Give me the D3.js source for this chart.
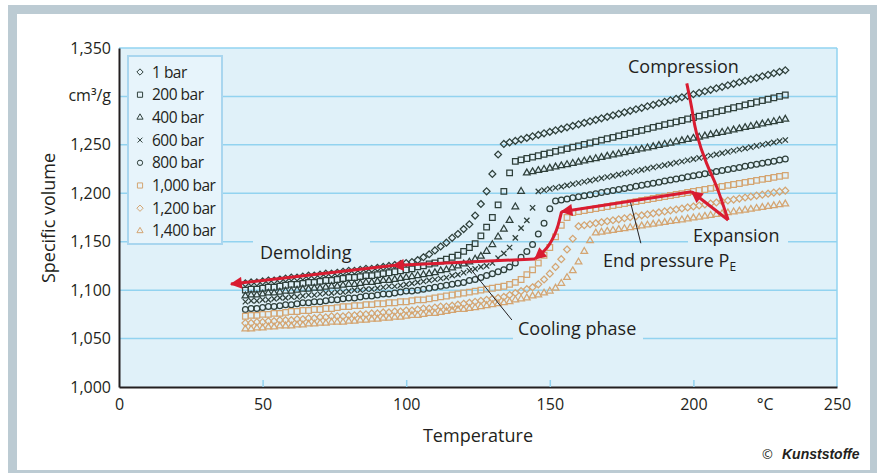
<!DOCTYPE html>
<html>
<head>
<meta charset="utf-8">
<script src="https://cdn.jsdelivr.net/npm/d3@7"></script>
<style>
  body { margin: 0; background: #fff; }
  svg { display: block; font-family: "Open Sans", sans-serif; }
</style>
</head>
<body>
<svg id="chart" width="877" height="473"></svg>
<script>
// measured temperatures (°C), shared by every pressure curve
var temps = [44,46,48,50,52,54,56,58,60,62,64,66,68,70,72,74,76,78,80,82,84,86,88,90,
  92,94,96,98,100,102,104,106,108,110,112,114,116,118,120,122,124,126,128,130,132,134,136,138,140,
  142,144,146,148,150,152,154,156,158,160,162,164,166,168,170,172,174,176,178,180,182,184,186,188,
  190,192,194,196,198,200,202,204,206,208,210,212,214,216,218,220,222,224,226,228,230,232];

var pressures = ["1 bar", "200 bar", "400 bar", "600 bar", "800 bar", "1,000 bar", "1,200 bar", "1,400 bar"];

// specific volume (cm3/g) per pressure
var v1 = [1.107,1.108,1.108,1.109,1.110,1.110,1.111,1.112,1.113,1.113,1.114,1.115,1.115,1.116,1.117,1.117,1.118,1.119,1.120,1.120,1.121,1.122,1.122,1.123,
  1.124,1.125,1.126,1.127,1.128,1.129,1.131,1.134,1.137,1.141,1.145,1.149,1.154,1.158,1.163,1.168,1.177,1.189,1.202,1.220,1.240,
  1.251,1.2526,1.2541,1.2557,1.2572,1.2588,1.2603,1.2619,1.2634,1.2650,1.2665,1.2681,1.2696,1.2712,1.2727,1.2743,1.2758,1.2774,1.2789,1.2805,
  1.2820,1.2836,1.2851,1.2867,1.2882,1.2898,1.2913,1.2929,1.2944,1.2960,1.2975,1.2991,1.3006,1.3022,1.3037,1.3053,1.3068,1.3084,1.3099,1.3115,
  1.3130,1.3146,1.3161,1.3177,1.3192,1.3208,1.3223,1.3239,1.3254,1.3270];
var v200 = [1.100,1.101,1.101,1.102,1.103,1.103,1.104,1.105,1.106,1.106,1.107,1.108,1.108,1.109,1.110,1.110,1.111,1.112,1.113,1.113,1.114,1.115,1.115,1.116,
  1.117,1.118,1.119,1.120,1.121,1.122,1.124,1.125,1.127,1.128,1.130,1.132,1.134,1.136,1.140,1.144,1.148,1.156,1.165,1.175,1.188,1.202,1.221,
  1.2330,1.2345,1.2359,1.2374,1.2388,1.2403,1.2417,1.2432,1.2447,1.2461,1.2476,1.2490,1.2505,1.2519,1.2534,1.2549,1.2563,1.2578,1.2592,1.2607,
  1.2621,1.2636,1.2650,1.2665,1.2680,1.2694,1.2709,1.2723,1.2738,1.2752,1.2767,1.2782,1.2796,1.2811,1.2825,1.2840,1.2854,1.2869,1.2883,1.2898,
  1.2913,1.2927,1.2942,1.2956,1.2971,1.2985,1.3000,1.3015];
var v400 = [1.094,1.095,1.095,1.096,1.097,1.097,1.098,1.099,1.099,1.100,1.101,1.101,1.102,1.102,1.103,1.104,1.104,1.105,1.106,1.106,1.107,1.108,1.108,1.109,
  1.110,1.110,1.111,1.112,1.113,1.114,1.115,1.116,1.117,1.118,1.120,1.121,1.123,1.125,1.127,1.129,1.132,1.135,1.140,1.147,1.155,1.163,1.172,1.186,1.202,
  1.2210,1.2222,1.2235,1.2247,1.2259,1.2272,1.2284,1.2296,1.2309,1.2321,1.2333,1.2346,1.2358,1.2370,1.2383,1.2395,1.2407,1.2420,1.2432,1.2444,
  1.2457,1.2469,1.2481,1.2494,1.2506,1.2518,1.2531,1.2543,1.2555,1.2568,1.2580,1.2592,1.2605,1.2617,1.2629,1.2642,1.2654,1.2666,1.2679,1.2691,
  1.2703,1.2716,1.2728,1.2740,1.2753,1.2765];
var v600 = [1.088,1.089,1.089,1.090,1.090,1.091,1.092,1.092,1.093,1.093,1.094,1.095,1.095,1.096,1.097,1.097,1.098,1.098,1.099,1.100,1.100,1.101,1.101,1.102,
  1.103,1.104,1.104,1.105,1.106,1.107,1.108,1.109,1.110,1.111,1.112,1.113,1.115,1.116,1.118,1.120,1.122,1.124,1.125,1.128,1.133,1.138,1.144,1.154,1.164,1.172,1.185,
  1.2020,1.2032,1.2045,1.2057,1.2069,1.2082,1.2094,1.2106,1.2119,1.2131,1.2143,1.2156,1.2168,1.2180,1.2193,1.2205,1.2217,1.2230,1.2242,1.2254,
  1.2267,1.2279,1.2291,1.2304,1.2316,1.2328,1.2341,1.2353,1.2365,1.2378,1.2390,1.2402,1.2415,1.2427,1.2439,1.2452,1.2464,1.2476,1.2489,1.2501,
  1.2513,1.2526,1.2538,1.2550];
var v800 = [1.080,1.081,1.081,1.082,1.083,1.083,1.084,1.085,1.085,1.086,1.087,1.087,1.088,1.088,1.089,1.090,1.090,1.091,1.092,1.092,1.093,1.094,1.094,1.095,
  1.096,1.096,1.097,1.098,1.099,1.099,1.100,1.101,1.102,1.103,1.104,1.105,1.106,1.107,1.108,1.110,1.111,1.113,1.115,1.117,1.119,1.121,1.124,1.128,1.134,1.140,1.147,1.158,1.169,1.184,
  1.1920,1.1931,1.1942,1.1953,1.1963,1.1974,1.1985,1.1996,1.2007,1.2018,1.2029,1.2039,1.2050,1.2061,1.2072,1.2083,1.2094,1.2104,1.2115,1.2126,
  1.2137,1.2148,1.2159,1.2170,1.2180,1.2191,1.2202,1.2213,1.2224,1.2235,1.2245,1.2256,1.2267,1.2278,1.2289,1.2300,1.2311,1.2321,1.2332,1.2343,1.2354];
var v1000 = [1.073,1.074,1.074,1.075,1.075,1.076,1.076,1.077,1.078,1.078,1.079,1.079,1.080,1.080,1.081,1.081,1.082,1.083,1.083,1.084,1.084,1.085,1.085,1.086,
  1.086,1.087,1.087,1.088,1.088,1.089,1.090,1.090,1.091,1.092,1.093,1.094,1.095,1.096,1.097,1.098,1.099,1.100,1.101,1.102,1.103,1.104,1.106,1.108,1.111,1.116,1.121,1.128,1.136,1.144,1.155,1.167,1.175,
  1.1800,1.1810,1.1821,1.1831,1.1842,1.1852,1.1862,1.1873,1.1883,1.1894,1.1904,1.1914,1.1925,1.1935,1.1946,1.1956,1.1966,1.1977,1.1987,1.1997,
  1.2008,1.2018,1.2029,1.2039,1.2050,1.2060,1.2070,1.2081,1.2091,1.2101,1.2112,1.2122,1.2133,1.2143,1.2153,1.2164,1.2174,1.2185];
var v1200 = [1.066,1.066,1.067,1.067,1.068,1.068,1.069,1.069,1.069,1.070,1.070,1.071,1.071,1.072,1.072,1.073,1.073,1.073,1.074,1.074,1.075,1.075,1.076,1.076,
  1.077,1.077,1.078,1.078,1.079,1.079,1.080,1.081,1.081,1.082,1.083,1.083,1.084,1.085,1.086,1.087,1.088,1.089,1.090,1.091,1.092,1.093,1.095,1.097,1.099,1.101,1.103,1.106,1.111,1.117,1.124,1.132,1.142,1.153,
  1.1660,1.1670,1.1680,1.1691,1.1701,1.1711,1.1721,1.1731,1.1742,1.1752,1.1762,1.1772,1.1782,1.1792,1.1803,1.1813,1.1823,1.1833,1.1843,1.1854,
  1.1864,1.1874,1.1884,1.1894,1.1905,1.1915,1.1925,1.1935,1.1945,1.1956,1.1966,1.1976,1.1986,1.1996,1.2007,1.2017,1.2027];
var v1400 = [1.060,1.060,1.061,1.061,1.062,1.062,1.063,1.063,1.063,1.064,1.064,1.065,1.065,1.066,1.066,1.067,1.067,1.067,1.068,1.068,1.069,1.069,1.070,1.070,
  1.071,1.071,1.072,1.072,1.073,1.074,1.074,1.075,1.076,1.076,1.077,1.078,1.079,1.080,1.080,1.081,1.082,1.083,1.084,1.085,1.086,1.087,1.088,1.090,1.091,1.092,1.094,1.095,1.097,1.099,1.102,1.107,1.113,1.120,1.129,1.140,1.151,
  1.1590,1.1599,1.1608,1.1617,1.1626,1.1635,1.1645,1.1654,1.1663,1.1672,1.1681,1.1690,1.1699,1.1708,1.1717,1.1726,1.1735,1.1745,1.1754,1.1763,
  1.1772,1.1781,1.1790,1.1799,1.1808,1.1817,1.1826,1.1835,1.1845,1.1854,1.1863,1.1872,1.1881,1.1890];

var yTicks = [1.00, 1.05, 1.10, 1.15, 1.20, 1.25, 1.30, 1.35];
var xTicks = [0, 50, 100, 150, 200, 250];

// process path annotations, in data coordinates (°C, cm3/g)
var compressionPath = [[197.7, 1.3135], [199.6, 1.2850], [201.1, 1.2619], [204.6, 1.2309], [208.1, 1.2068], [212.1, 1.1724]];
var expansionPath = [[212.1, 1.1724], [199.4, 1.2016]];
var endPressurePath = [[199.4, 1.2016], [154.1, 1.1810]];
var coolingPath = [[154.1, 1.1810], [152.9, 1.1672], [151.6, 1.1569], [150.1, 1.1484], [148.3, 1.1414], [144.85, 1.1322]];
var demoldPath1 = [[144.85, 1.1322], [95.4, 1.1254]];
var demoldPath2 = [[95.4, 1.1254], [39.0, 1.1063]];
var coolingLeader = [[120.5, 1.1290], [136.8, 1.0692]];
var endPressureLeader = [[177.9, 1.1930], [181.7, 1.1484]];

var series = [v1, v200, v400, v600, v800, v1000, v1200, v1400];

var dark = "#2f403b", tan = "#d4a572", red = "#d91c31", ink = "#231f20";
var gridBlue = "#92d3f0", plotBg = "#e0f1f9";
var colors = [dark, dark, dark, dark, dark, tan, tan, tan];
var shapes = [d3.symbolDiamond2, d3.symbolSquare2, d3.symbolTriangle2, d3.symbolX, d3.symbolCircle, d3.symbolSquare2, d3.symbolDiamond2, d3.symbolTriangle2];
var sizes = [30, 40, 32, 20, 26, 40, 30, 32];

var svg = d3.select("#chart");

var x = d3.scaleLinear().domain([0, 250]).range([119, 837]);
var y = d3.scaleLinear().domain([1.0, 1.35]).range([387, 48]);

// outer frame
svg.append("rect").attr("x", 8).attr("y", 5).attr("width", 869).attr("height", 468).attr("fill", "#bccbd3");
svg.append("rect").attr("x", 17).attr("y", 14).attr("width", 853).attr("height", 456).attr("fill", "#fff");

// plot area
svg.append("rect")
  .attr("x", x(0)).attr("y", y(1.35))
  .attr("width", x(250) - x(0)).attr("height", y(1.0) - y(1.35))
  .attr("fill", plotBg);

svg.selectAll(".grid")
  .data(yTicks.filter(function(d) { return d > 1.0; }))
  .enter()
  .append("line")
  .attr("class", "grid")
  .attr("x1", x(0)).attr("x2", x(250))
  .attr("y1", function(d) { return y(d); })
  .attr("y2", function(d) { return y(d); })
  .attr("stroke", gridBlue)
  .attr("stroke-width", 1.5);

svg.append("line")
  .attr("x1", x(250)).attr("x2", x(250))
  .attr("y1", y(1.35)).attr("y2", y(1.0))
  .attr("stroke", gridBlue).attr("stroke-width", 1.5);

// boxes that cut the grid lines behind some labels
var cutouts = [[253, 235, 117, 30], [688, 234, 100, 14], [513, 331, 130, 14]];
cutouts.forEach(function(c) {
  svg.append("rect").attr("x", c[0]).attr("y", c[1]).attr("width", c[2]).attr("height", c[3]).attr("fill", plotBg);
});

// axes
var xAxis = d3.axisBottom(x).tickValues(xTicks).tickSizeInner(-7).tickSizeOuter(0).tickPadding(12).tickFormat(d3.format("d"));
var gx = svg.append("g").attr("transform", "translate(0," + y(1.0) + ")").call(xAxis);
gx.select(".domain").attr("stroke", ink).attr("stroke-width", 2);
gx.selectAll(".tick line").attr("stroke", gridBlue).attr("stroke-width", 1.5)
  .attr("opacity", function(d) { return d === 0 || d === 250 ? 0 : 1; });
gx.selectAll(".tick text").attr("font-size", 16).attr("fill", ink).attr("font-family", "Open Sans");

var yAxis = d3.axisLeft(y).tickValues(yTicks).tickSize(0).tickPadding(8)
  .tickFormat(function(d) { return d === 1.3 ? "" : d3.format(".3f")(d).replace(".", ","); });
var gy = svg.append("g").attr("transform", "translate(" + x(0) + ",0)").call(yAxis);
gy.select(".domain").attr("stroke", ink).attr("stroke-width", 2);
gy.selectAll(".tick text").attr("font-size", 16).attr("fill", ink).attr("font-family", "Open Sans");

svg.append("text").attr("x", 111).attr("y", y(1.3) + 5).attr("text-anchor", "end")
  .attr("font-size", 16).attr("fill", ink).text("cm³/g");
svg.append("text").attr("x", x(225)).attr("y", y(1.0) + 23).attr("text-anchor", "middle")
  .attr("font-size", 16).attr("fill", ink).text("°C");

svg.append("text").attr("x", 478).attr("y", 442).attr("text-anchor", "middle")
  .attr("font-size", 18).attr("fill", ink).text("Temperature");
svg.append("text").attr("transform", "translate(55,218) rotate(-90)").attr("text-anchor", "middle")
  .attr("font-size", 18).attr("fill", ink).text("Specific volume");

// legend
var legend = svg.append("g");
legend.append("rect").attr("x", 128).attr("y", 56).attr("width", 94).attr("height", 188)
  .attr("fill", "#e7f4fb").attr("stroke", "#a9d6ef").attr("stroke-width", 2);
pressures.forEach(function(p, i) {
  var ly = 72 + i * 22.7;
  legend.append("path")
    .attr("d", d3.symbol().type(shapes[i]).size(sizes[i] * 0.85)())
    .attr("transform", "translate(140," + ly + ")")
    .attr("fill", "none").attr("stroke", colors[i]).attr("stroke-width", 1);
  legend.append("text").attr("x", 152).attr("y", ly + 5.5)
    .attr("font-size", 15.5).attr("letter-spacing", -0.5).attr("fill", ink).text(p);
});

// the pvT curves, one marker per measured point
series.forEach(function(vals, i) {
  svg.append("g").selectAll("path")
    .data(d3.zip(temps, vals))
    .enter()
    .append("path")
    .attr("d", d3.symbol().type(shapes[i]).size(sizes[i]))
    .attr("transform", function(d) { return "translate(" + x(d[0]) + "," + y(d[1]) + ")"; })
    .attr("fill", "none")
    .attr("stroke", colors[i])
    .attr("stroke-width", 1.25);
});

// thin leader lines
var straight = d3.line().x(function(d) { return x(d[0]); }).y(function(d) { return y(d[1]); });
[coolingLeader, endPressureLeader].forEach(function(pts) {
  svg.append("path").attr("d", straight(pts)).attr("stroke", ink).attr("stroke-width", 1).attr("fill", "none");
});

// red process arrows
svg.append("defs").append("marker")
  .attr("id", "head").attr("viewBox", "0 0 10 10")
  .attr("refX", 9).attr("refY", 5)
  .attr("markerUnits", "userSpaceOnUse")
  .attr("markerWidth", 14).attr("markerHeight", 12)
  .attr("orient", "auto")
  .append("path").attr("d", "M0,0L10,5L0,10z").attr("fill", red);

var smooth = d3.line().curve(d3.curveNatural).x(function(d) { return x(d[0]); }).y(function(d) { return y(d[1]); });
svg.append("path").attr("d", smooth(compressionPath)).attr("stroke", red).attr("stroke-width", 3).attr("fill", "none");
[expansionPath, endPressurePath, demoldPath1, demoldPath2].forEach(function(pts) {
  svg.append("path").attr("d", straight(pts)).attr("stroke", red).attr("stroke-width", 3)
    .attr("fill", "none").attr("marker-end", "url(#head)");
});
svg.append("path").attr("d", smooth(coolingPath)).attr("stroke", red).attr("stroke-width", 3)
  .attr("fill", "none").attr("marker-end", "url(#head)");

// annotation labels
function label(tx, ty, s) {
  return svg.append("text").attr("x", tx).attr("y", ty).attr("font-size", 18).attr("fill", ink).text(s);
}
label(628, 73, "Compression");
label(693, 242, "Expansion");
label(260, 259, "Demolding");
label(518, 335, "Cooling phase");
var ep = label(603, 267, "End pressure P");
ep.append("tspan").attr("font-size", 12).attr("dy", 4).text("E");

// source
svg.append("text").attr("x", 762).attr("y", 459).attr("font-size", 13).attr("fill", ink).text("©");
svg.append("text").attr("x", 782).attr("y", 459).attr("font-size", 14)
  .attr("font-family", "Liberation Sans").attr("font-weight", "bold").attr("font-style", "italic")
  .attr("fill", ink).text("Kunststoffe");
</script>
</body>
</html>
